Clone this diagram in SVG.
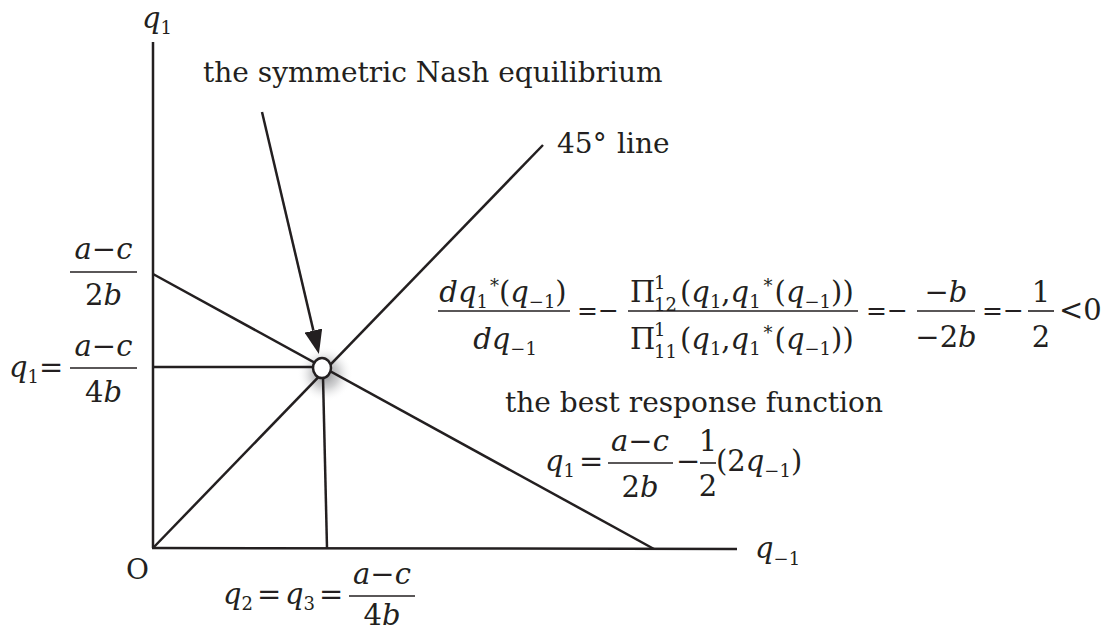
<svg xmlns="http://www.w3.org/2000/svg" width="1117" height="632" viewBox="0 0 1117 632">
<style>
.ln{stroke:#231f20;stroke-width:2.5;fill:none;stroke-linecap:butt}
text{font-family:"DejaVu Serif","Liberation Serif",serif;fill:#231f20}
.t{font-size:28px}
.m{font-size:29px}
.op{font-size:25px}
.i{font-style:italic}
.u{font-style:normal}
.s{font-size:18px;font-style:normal}
.bar{stroke:#231f20;stroke-width:1.6}
</style>
<defs>
<marker id="ah" viewBox="0 0 24 18" refX="0" refY="9" markerWidth="24" markerHeight="18" markerUnits="userSpaceOnUse" orient="auto">
<path d="M0,0 L24,9 L0,18 z" fill="#231f20"/>
</marker>
<radialGradient id="sh" cx="0.5" cy="0.5" r="0.5">
<stop offset="0" stop-color="#6d6e71" stop-opacity="0.8"/>
<stop offset="0.5" stop-color="#9a9b9e" stop-opacity="0.45"/>
<stop offset="1" stop-color="#ffffff" stop-opacity="0"/>
</radialGradient>
</defs>
<rect width="1117" height="632" fill="#ffffff"/>
<circle cx="325" cy="374" r="28" fill="url(#sh)"/>
<g id="connectors">
<line class="ln" x1="153" y1="42" x2="153" y2="548"/>
<line class="ln" x1="152" y1="548" x2="737" y2="549"/>
<line class="ln" x1="153" y1="274" x2="654" y2="549"/>
<line class="ln" x1="153" y1="548" x2="543" y2="145"/>
<line class="ln" x1="153" y1="367" x2="314" y2="367"/>
<line class="ln" x1="323" y1="377" x2="327" y2="548"/>
<line class="ln" x1="262" y1="112" x2="313.4" y2="330.6" marker-end="url(#ah)"/>
</g>
<g id="node-equilibrium">
<ellipse cx="322" cy="368" rx="9" ry="10" fill="#ffffff" stroke="#231f20" stroke-width="2.5"/>
</g>
<g id="label-q1-axis">
<text class="m i" x="142" y="28">q<tspan class="s" dy="6">1</tspan></text>
</g>
<g id="label-qm1-axis">
<text class="m i" x="755" y="558">q<tspan class="s" dy="7">−1</tspan></text>
</g>
<g id="label-origin">
<text class="t" x="126" y="579">O</text>
</g>
<g id="label-nash">
<text class="t" x="203" y="82">the symmetric Nash equilibrium</text>
</g>
<g id="label-45">
<text class="t" x="557" y="153">45°<tspan x="617">line</tspan></text>
</g>
<g id="label-intercept">
<text class="m i" x="103.5" y="259" text-anchor="middle">a<tspan class="u">−</tspan>c</text>
<line class="bar" x1="70" y1="272" x2="137" y2="272"/>
<text class="m" x="103.5" y="305" text-anchor="middle">2<tspan class="i">b</tspan></text>
</g>
<g id="label-q1-value">
<text class="m i" x="9" y="377">q<tspan class="s" dy="6">1</tspan><tspan class="u" dy="-6">=</tspan></text>
<text class="m i" x="103.5" y="356" text-anchor="middle">a<tspan class="u">−</tspan>c</text>
<line class="bar" x1="70" y1="368" x2="137" y2="368"/>
<text class="m" x="103.5" y="402" text-anchor="middle">4<tspan class="i">b</tspan></text>
</g>
<g id="label-slope">
<text class="m i" x="503" y="302" text-anchor="middle">dq<tspan class="s" dy="6">1</tspan><tspan class="s" dy="-16" dx="2">*</tspan><tspan class="u" dy="10">(</tspan>q<tspan class="s" dy="6">−1</tspan><tspan class="u" dy="-6">)</tspan></text>
<line class="bar" x1="438" y1="311" x2="570" y2="311"/>
<text class="m i" x="505" y="349" text-anchor="middle">dq<tspan class="s" dy="6">−1</tspan></text>
<text class="op" x="577" y="319">=−</text>
<text class="m" x="630" y="302">Π</text>
<text class="s" x="654" y="289">1</text>
<text class="s" x="654" y="311">12</text>
<text class="m" x="680" y="302">(<tspan class="i">q</tspan><tspan class="s" dy="6">1</tspan><tspan dy="-6">,</tspan><tspan class="i">q</tspan><tspan class="s" dy="6">1</tspan><tspan class="s" dy="-16" dx="3">*</tspan><tspan dy="10" dx="2">(</tspan><tspan class="i">q</tspan><tspan class="s" dy="6">−1</tspan><tspan dy="-6">))</tspan></text>
<line class="bar" x1="628" y1="311" x2="858" y2="311"/>
<text class="m" x="630" y="349">Π</text>
<text class="s" x="654" y="336">1</text>
<text class="s" x="654" y="358">11</text>
<text class="m" x="680" y="349">(<tspan class="i">q</tspan><tspan class="s" dy="6">1</tspan><tspan dy="-6">,</tspan><tspan class="i">q</tspan><tspan class="s" dy="6">1</tspan><tspan class="s" dy="-16" dx="3">*</tspan><tspan dy="10" dx="2">(</tspan><tspan class="i">q</tspan><tspan class="s" dy="6">−1</tspan><tspan dy="-6">))</tspan></text>
<text class="op" x="866" y="319">=−</text>
<text class="m" x="946" y="302" text-anchor="middle">−<tspan class="i">b</tspan></text>
<line class="bar" x1="917" y1="311" x2="975" y2="311"/>
<text class="m" x="946" y="347" text-anchor="middle">−2<tspan class="i">b</tspan></text>
<text class="op" x="982" y="319">=−</text>
<text class="m" x="1041" y="302" text-anchor="middle">1</text>
<line class="bar" x1="1028" y1="311" x2="1054" y2="311"/>
<text class="m" x="1041" y="347" text-anchor="middle">2</text>
<text class="m" x="1059" y="320">&lt;0</text>
</g>
<g id="label-best-response">
<text class="t" x="505" y="412">the best response function</text>
<text class="m i" x="545" y="471">q<tspan class="s" dy="6">1</tspan><tspan class="u" dy="-6" dx="4">=</tspan></text>
<text class="m i" x="640" y="451" text-anchor="middle">a<tspan class="u">−</tspan>c</text>
<line class="bar" x1="608" y1="463" x2="673" y2="463"/>
<text class="m" x="640" y="497" text-anchor="middle">2<tspan class="i">b</tspan></text>
<text class="m" x="676" y="471">−</text>
<text class="m" x="708" y="451" text-anchor="middle">1</text>
<line class="bar" x1="700" y1="463" x2="716" y2="463"/>
<text class="m" x="708" y="496" text-anchor="middle">2</text>
<text class="m" x="716" y="471">(2<tspan class="i">q</tspan><tspan class="s" dy="6">−1</tspan><tspan dy="-6">)</tspan></text>
</g>
<g id="label-q2q3">
<text class="m i" x="223" y="604">q<tspan class="s" dy="6">2</tspan><tspan class="u" dy="-6" dx="4">=</tspan><tspan x="285">q</tspan><tspan class="s" dy="6">3</tspan><tspan class="u" dy="-6" dx="4">=</tspan></text>
<text class="m i" x="382" y="584" text-anchor="middle">a<tspan class="u">−</tspan>c</text>
<line class="bar" x1="349" y1="596" x2="415" y2="596"/>
<text class="m" x="382" y="625" text-anchor="middle">4<tspan class="i">b</tspan></text>
</g>
</svg>
